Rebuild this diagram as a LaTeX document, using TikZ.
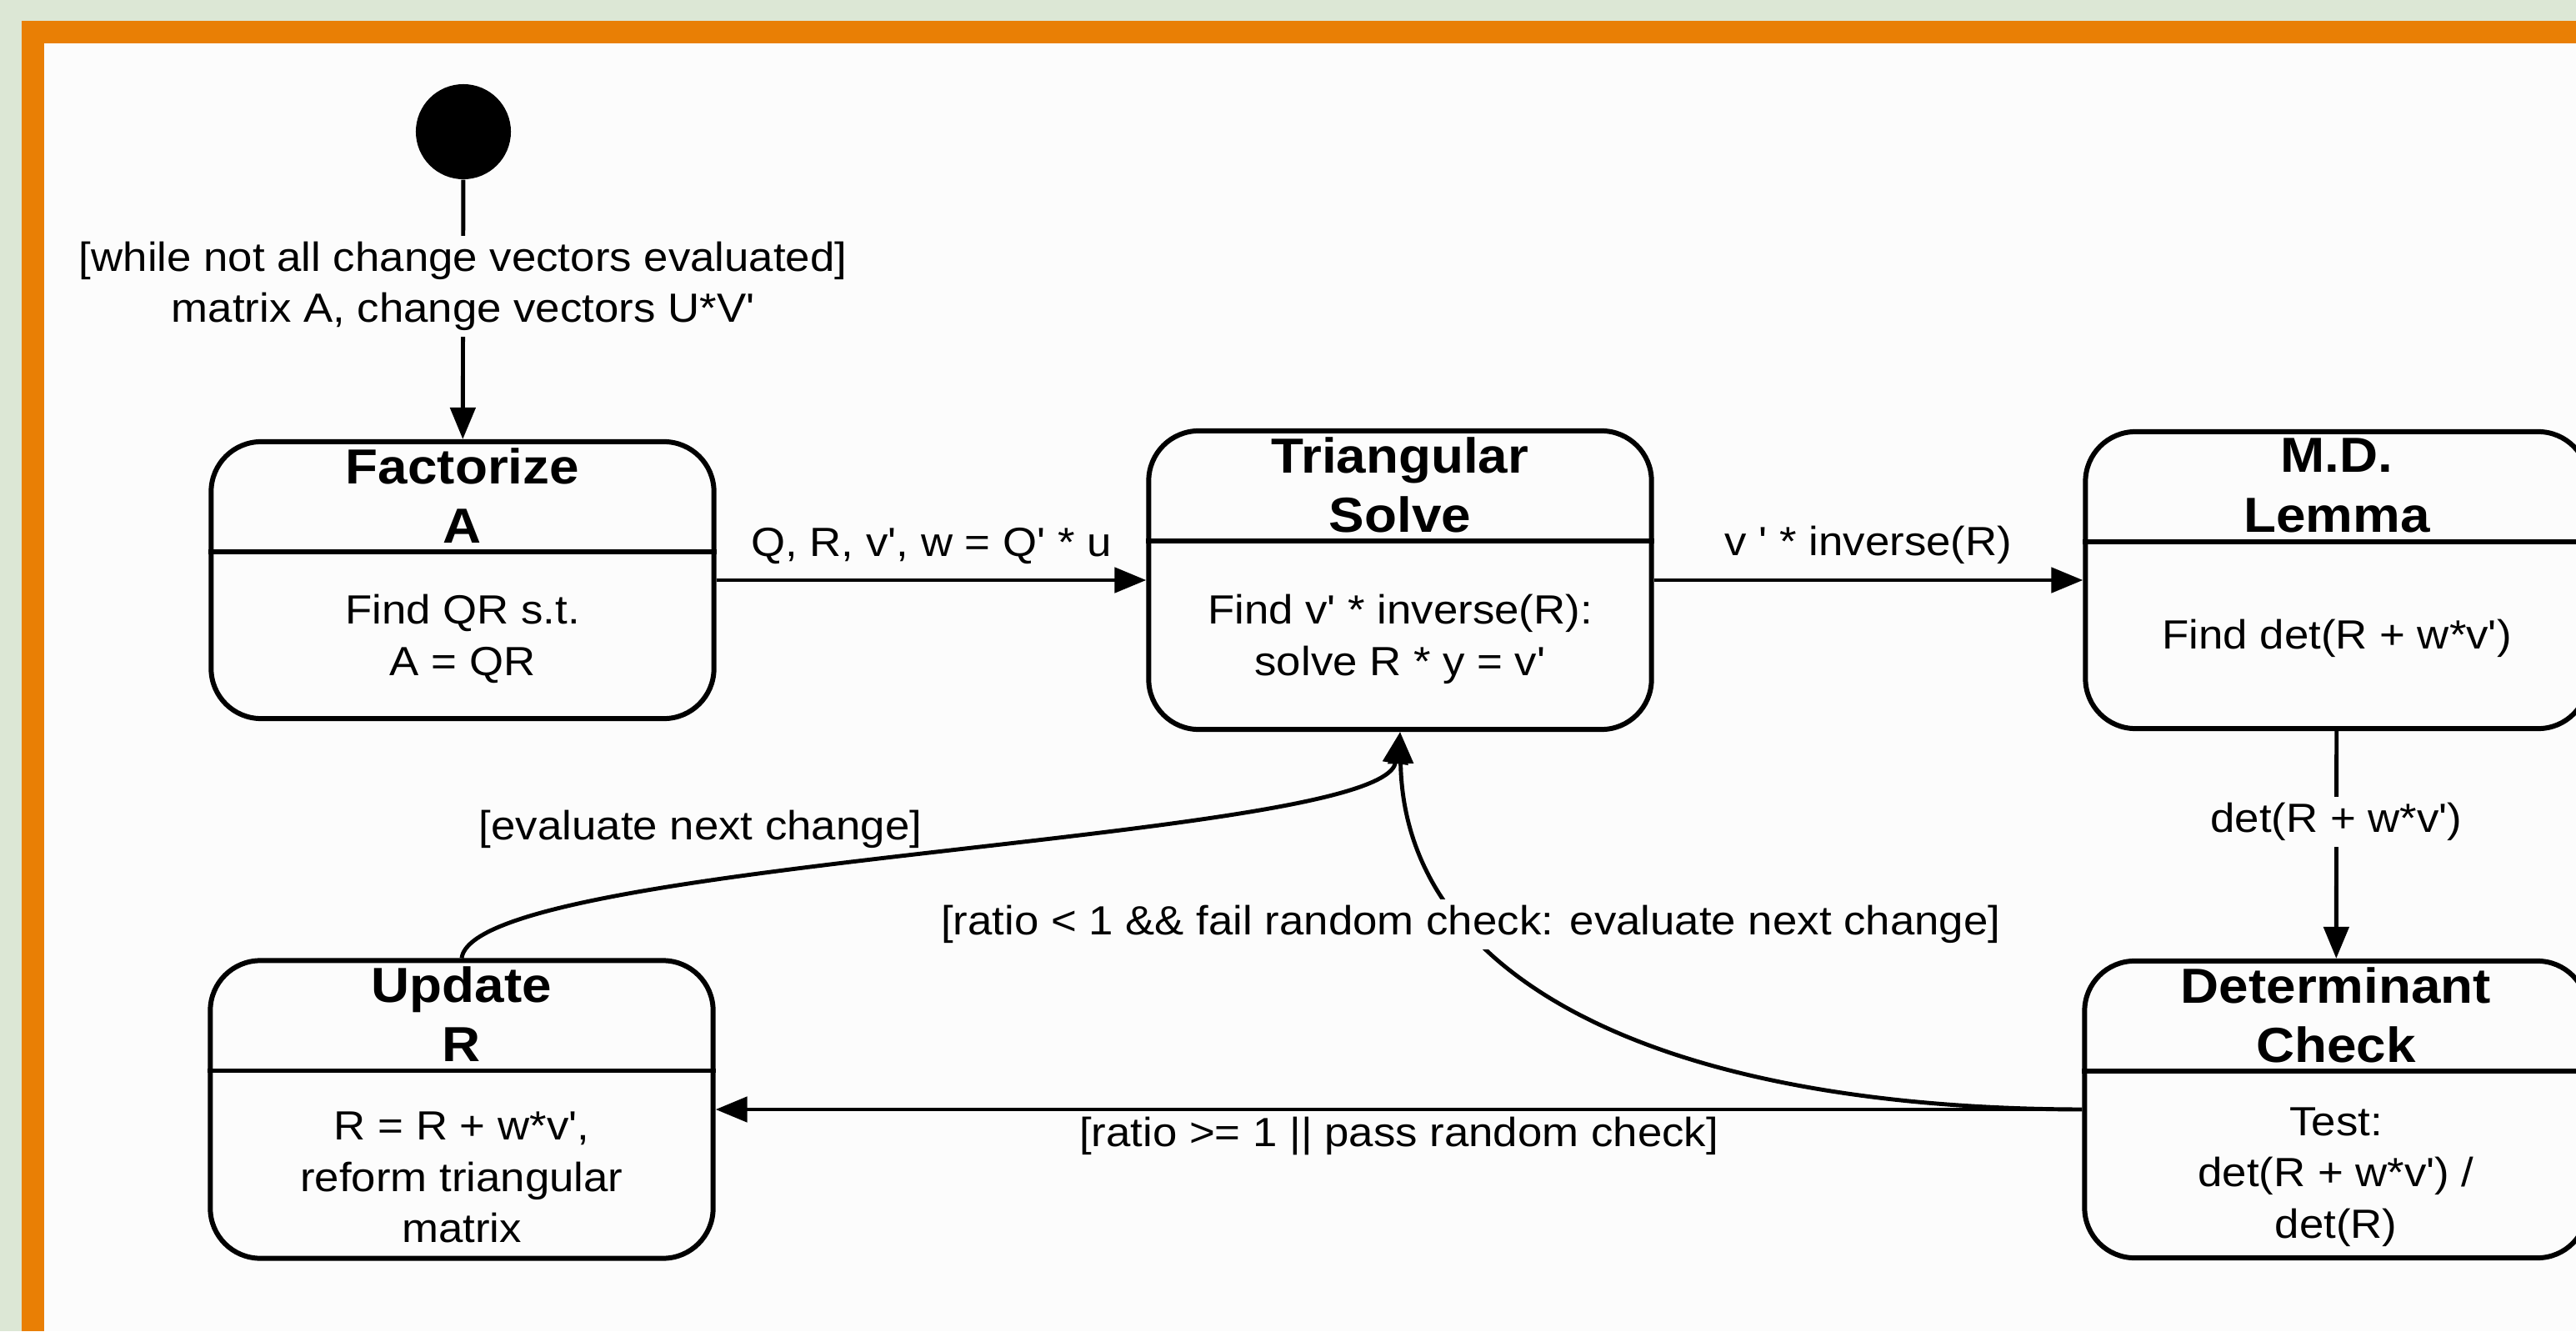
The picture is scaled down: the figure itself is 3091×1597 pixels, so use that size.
\documentclass[tikz,border=0pt]{standalone}
\usepackage{fontspec}
\setmainfont{Liberation Sans}[FakeStretch=1.08, Ligatures=TeXOff]
\usetikzlibrary{arrows.meta}
\definecolor{bggreen}{HTML}{DCE7D5}
\definecolor{frameorange}{HTML}{E97F05}
\definecolor{paper}{HTML}{FCFCFC}
\newcommand{\stitlefont}{\fontsize{16.8}{20.2}\selectfont\bfseries}
\newcommand{\sbodyfont}{\fontsize{13.9}{17.5}\selectfont}
\tikzset{state/.style={draw, line width=1.7pt, rounded corners=0.6cm,
    minimum width=6.03cm, inner sep=0pt},
  sline/.style={line width=1.7pt},
  stitle/.style={font=\stitlefont, align=center, inner sep=0pt},
  sbody/.style={font=\sbodyfont, align=center, inner sep=0pt},
  trans/.style={line width=1.4pt, -{Triangle[length=0.38cm,width=0.3cm]}},
  lbl/.style={font=\sbodyfont, align=center, inner sep=2pt}}

\begin{document}
\begin{tikzpicture}[x=0.01cm, y=-0.01cm]
  \useasboundingbox (0,0) rectangle (3091,1597);
  \clip (0,0) rectangle (3091,1597);
  \fill[bggreen] (0,0) rectangle (3091,1597);
  \fill[frameorange] (26,25) rectangle (3091,1597);
  \fill[paper] (53,52) rectangle (3091,1597);

  \node[circle, fill=black, minimum size=1.14cm, inner sep=0pt] (init) at (556,158) {};

  % states
  \node[state, minimum height=3.32cm] (fact) at (555,696) {};
  \draw[sline] ([yshift=-1.35cm]fact.north west) -- ([yshift=-1.35cm]fact.north east);
  \node[stitle] (factT) at ([yshift=-0.675cm]fact.north) {Factorize\\A};
  \node[sbody] (factB) at ([yshift=0.985cm]fact.south) {Find QR s.t.\\A = QR};

  \node[state, minimum height=3.58cm] (tri) at (1680,696) {};
  \draw[sline] ([yshift=-1.35cm]tri.north west) -- ([yshift=-1.35cm]tri.north east);
  \node[stitle] (triT) at ([yshift=-0.675cm]tri.north) {Triangular\\Solve};
  \node[sbody] (triB) at ([yshift=1.11cm]tri.south) {Find v' * inverse(R):\\solve R * y = v'};

  \node[state, minimum height=3.56cm] (md) at (2804,696) {};
  \draw[sline] ([yshift=-1.35cm]md.north west) -- ([yshift=-1.35cm]md.north east);
  \node[stitle] (mdT) at ([yshift=-0.675cm]md.north) {M.D.\\Lemma};
  \node[sbody] (mdB) at ([yshift=1.11cm]md.south) {Find det(R + w*v')};

  \node[state, minimum height=3.57cm] (upd) at (554,1331) {};
  \draw[sline] ([yshift=-1.35cm]upd.north west) -- ([yshift=-1.35cm]upd.north east);
  \node[stitle] (updT) at ([yshift=-0.675cm]upd.north) {Update\\R};
  \node[sbody] (updB) at ([yshift=1.0cm]upd.south) {R = R + w*v',\\reform triangular\\matrix};

  \node[state, minimum height=3.56cm] (det) at (2803,1331) {};
  \draw[sline] ([yshift=-1.35cm]det.north west) -- ([yshift=-1.35cm]det.north east);
  \node[stitle] (detT) at ([yshift=-0.675cm]det.north) {Determinant\\Check};
  \node[sbody] (detB) at ([yshift=1.0cm]det.south) {Test:\\det(R + w*v') /\\det(R)};

  % transitions
  \draw[trans] (init) -- node[lbl, fill=paper, pos=0.41] {[while not all change vectors evaluated]\\matrix A, change vectors U*V'} (fact);
  \draw[trans] (fact) -- node[lbl, above=0.1cm] {Q, R, v', w = Q' * u} (tri);
  \draw[trans] (tri) -- node[lbl, above=0.1cm] {v ' * inverse(R)} (md);
  \draw[trans] (md) -- node[lbl, fill=paper, pos=0.4] {det(R + w*v')} (det);
  \draw[trans] (det) -- node[lbl, below] {[ratio >= 1 || pass random check]} (upd);
  \draw[trans] (det.west) .. controls (2000,1330) and (1685,1180) .. node[lbl, fill=paper, pos=0.7] {[ratio < 1 \&\& fail random check: evaluate next change]} (tri.south);
  \draw[trans] (upd.north) .. controls (570,1030) and (1660,1010) .. node[lbl, pos=0.3, above=0.36cm, xshift=0.4cm] {[evaluate next change]} (tri.south);
\end{tikzpicture}
\end{document}
